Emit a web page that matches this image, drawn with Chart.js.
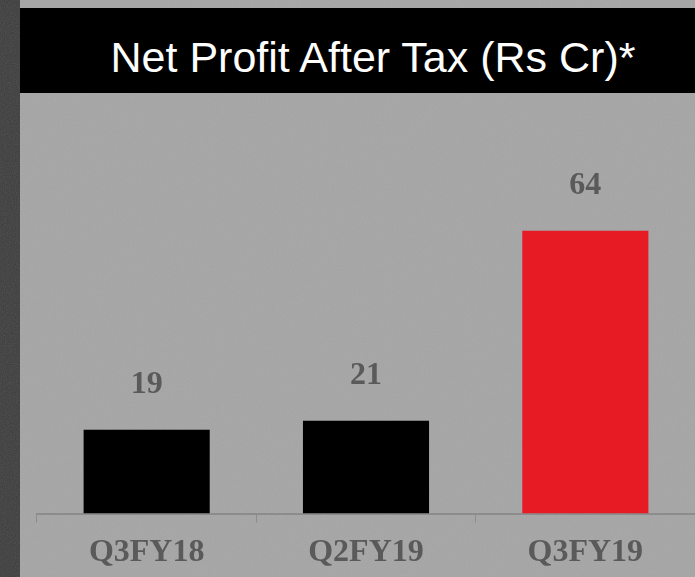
<!DOCTYPE html>
<html>
<head>
<meta charset="utf-8">
<script src="https://cdn.jsdelivr.net/npm/chart.js"></script>
<style>
  html, body { margin: 0; padding: 0; }
  body {
    width: 695px; height: 577px; overflow: hidden; position: relative;
    background-color: #3b3b3b;
  }
  .noise {
    position: absolute; left: 0; top: 0; width: 100%; height: 100%;
    background-image: url("data:image/svg+xml;utf8,<svg xmlns='http://www.w3.org/2000/svg' width='300' height='300'><filter id='n'><feTurbulence type='fractalNoise' baseFrequency='0.9' numOctaves='2' stitchTiles='stitch'/><feColorMatrix type='saturate' values='0'/></filter><rect width='300' height='300' filter='url(%23n)'/></svg>");
    opacity: 0.18;
  }
  #panel {
    position: absolute; left: 20px; top: 0; width: 675px; height: 577px;
    background-color: #a5a5a5; overflow: hidden;
  }
  #panel .noise { opacity: 0.12; }
  #titlebar {
    position: absolute; left: 20px; top: 8px; width: 675px; height: 85px;
    background: #000;
  }
  #title {
    position: absolute; left: 0; top: 15px; width: 746px; height: 85px;
    line-height: 85px; text-align: center; color: #fff;
    font-family: "Liberation Sans", Arial, sans-serif; font-size: 43px;
  }
  #wrap { position: absolute; left: 0; top: 0; width: 695px; height: 583px; }
</style>
</head>
<body>
<div class="noise"></div>
<div id="panel"><div class="noise"></div></div>
<div id="titlebar"></div>
<div id="title">Net Profit After Tax (Rs Cr)*</div>
<div id="wrap"><canvas id="chart"></canvas></div>
<script>
// Net profit after tax, Rs Cr
const categories = ['Q3FY18', 'Q2FY19', 'Q3FY19'];
const profitValues = [19, 21, 64];
const barColors = ['#000000', '#000000', '#e71b24'];

const valueLabels = {
    id: 'valueLabels',
    afterDatasetsDraw(chart) {
        const ctx = chart.ctx;
        const meta = chart.getDatasetMeta(0);
        ctx.save();
        ctx.font = 'bold 32px "Liberation Serif", "Times New Roman", serif';
        ctx.fillStyle = '#5a5a5a';
        ctx.textAlign = 'center';
        ctx.textBaseline = 'middle';
        meta.data.forEach((bar, i) => {
            ctx.fillText(String(profitValues[i]), bar.x, bar.y - 45);
        });
        ctx.restore();
    }
};

new Chart(document.getElementById('chart'), {
    type: 'bar',
    data: {
        labels: categories,
        datasets: [{
            data: profitValues,
            backgroundColor: barColors,
            borderWidth: 0,
            barPercentage: 0.575,
            categoryPercentage: 1.0
        }]
    },
    options: {
        responsive: true,
        maintainAspectRatio: false,
        animation: false,
        layout: { padding: { left: 37, right: 0, top: 116, bottom: 0 } },
        plugins: { legend: { display: false }, tooltip: { enabled: false } },
        scales: {
            x: {
                grid: { display: true, drawOnChartArea: false, drawTicks: true, tickLength: 9, color: '#8c8c8c', offset: true },
                border: { display: true, color: '#8c8c8c', width: 2 },
                ticks: {
                    color: '#5a5a5a',
                    padding: 11,
                    font: { family: '"Liberation Serif", "Times New Roman", serif', size: 32, weight: 'bold' }
                }
            },
            y: {
                display: false,
                min: 0,
                max: 90
            }
        }
    },
    plugins: [valueLabels]
});
</script>
</body>
</html>
